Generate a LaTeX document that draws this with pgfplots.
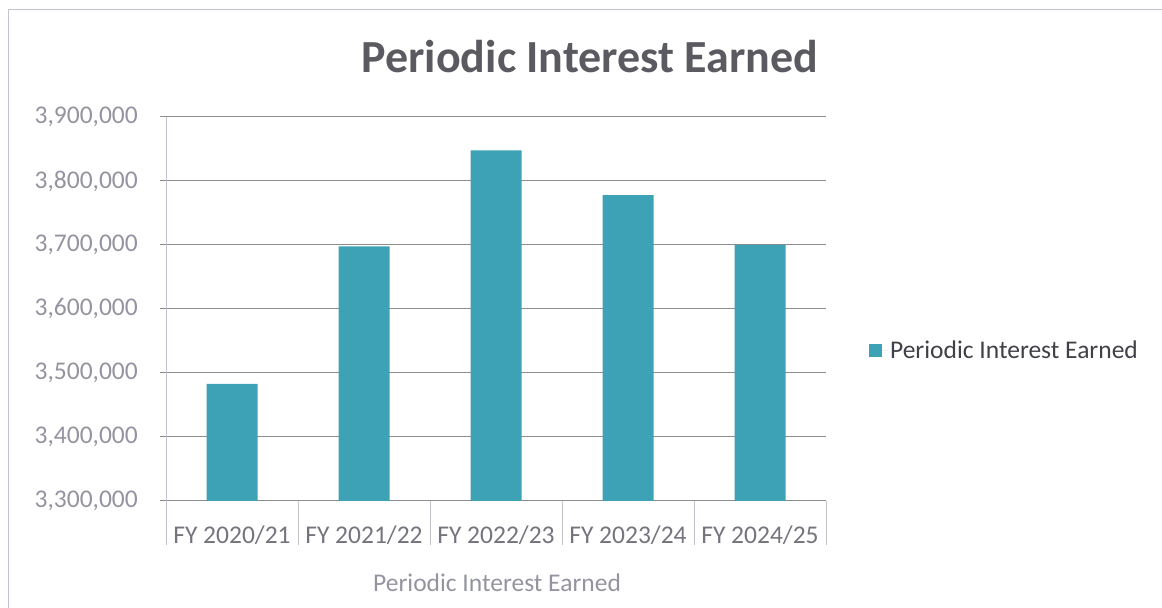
\documentclass[border=0pt]{standalone}
\usepackage{pgfplots}
\pgfplotsset{compat=1.18}
\usepackage{fontspec}
\setmainfont{Carlito}
\definecolor{barc}{HTML}{3DA2B5}
\definecolor{tickc}{HTML}{9494A0}
\definecolor{catc}{HTML}{74747E}
\definecolor{gridc}{HTML}{8C8C8C}
\definecolor{titlec}{HTML}{5A5A60}
\definecolor{axc}{HTML}{C4C4CC}
\definecolor{legc}{HTML}{404048}
\begin{document}
\begin{tikzpicture}[x=1bp,y=1bp]
\useasboundingbox (0,0) rectangle (1162,608);
\draw[axc, line width=1bp] (8,0) -- (8,598) -- (1162,598);
\begin{axis}[
  at={(166bp,107bp)}, anchor=south west,
  scale only axis, width=660bp, height=384bp,
  ymin=3300000, ymax=3900000, ytick distance=100000,
  xmin=-0.5, xmax=4.5,
  xtick={0,...,4},
  xticklabels={FY 2020/21,FY 2021/22,FY 2022/23,FY 2023/24,FY 2024/25},
  minor xtick={-0.5,0.5,...,4.5},
  axis x line*=bottom, axis y line*=left,
  x axis line style={gridc, line width=1bp, -},
  y axis line style={axc, line width=1bp, -},
  tick align=outside,
  major tick length=6bp, minor tick length=44bp,
  major x tick style={draw=none},
  minor x tick style={axc, line width=1bp},
  major y tick style={gridc, line width=1bp},
  ymajorgrids, major grid style={gridc, line width=1bp},
  scaled y ticks=false,
  /pgf/number format/fixed,
  /pgf/number format/1000 sep={,},
  /pgf/number format/assume math mode=true,
  yticklabel style={font=\fontsize{25.5bp}{30bp}\selectfont, text=tickc, inner sep=0pt, anchor=east, xshift=-22bp},
  xticklabel style={font=\fontsize{25.5bp}{30bp}\selectfont, text=catc, inner sep=0pt, anchor=base, yshift=-37bp},
  ybar, bar width=51bp,
  legend style={draw=none, fill=none, at={(1.065,0.392)}, anchor=west, inner sep=0pt,
    font=\fontsize{25.5bp}{30bp}\selectfont, text=legc, legend cell align=left},
  legend image code/.code={\fill[barc] (0bp,-6.5bp) rectangle (13bp,6.5bp); \path (0bp,0bp) -- (19bp,0bp);},
]
\addplot[fill=barc, draw=none] coordinates {(0,3482800) (1,3698000) (2,3848000) (3,3778000) (4,3700000)};
\addlegendentry{Periodic Interest Earned}
\draw[axc, line width=1bp] (axis cs:-0.5,3300000) -- ++(0,-105bp);
\draw[axc, line width=1bp] (axis cs:4.5,3300000) -- ++(0,-105bp);
\end{axis}
\node[anchor=base, text=titlec, font=\fontsize{46bp}{50bp}\selectfont\bfseries] at (590,535) {Periodic Interest Earned};
\node[anchor=base, text=tickc, font=\fontsize{25.5bp}{30bp}\selectfont] at (497,16) {Periodic Interest Earned};
\end{tikzpicture}
\end{document}
